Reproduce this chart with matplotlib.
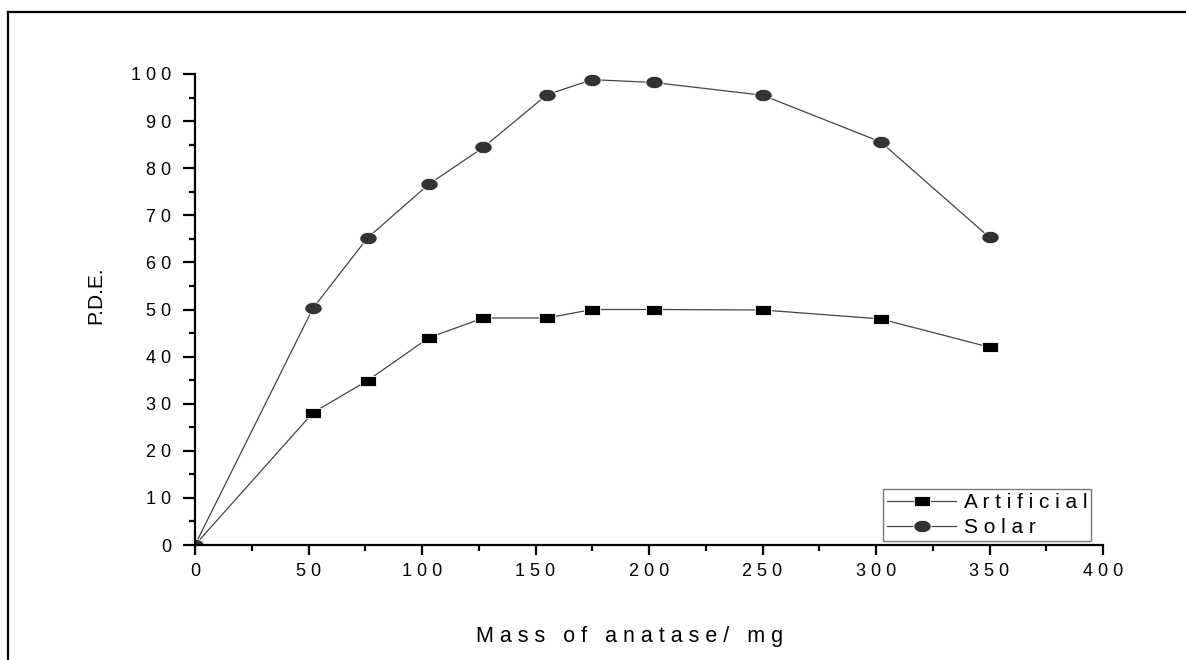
import matplotlib
matplotlib.use('Agg')
import matplotlib.pyplot as plt
import numpy as np
from matplotlib.lines import Line2D
from matplotlib.ticker import MultipleLocator, FuncFormatter

plt.rcParams['font.family'] = ['Liberation Sans', 'DejaVu Sans']

# mass of anatase (mg) and photodegradation efficiency
mass_art = [0, 52, 76, 103, 127, 155, 175, 202, 250, 302, 350]
pde_art = [0, 28.1, 34.9, 44.0, 48.2, 48.2, 50.0, 50.0, 49.9, 48.0, 42.0]
mass_sol = [0, 52, 76, 103, 127, 155, 175, 202, 250, 302, 350]
pde_sol = [0, 50.3, 65.2, 76.6, 84.4, 95.6, 98.8, 98.2, 95.5, 85.6, 65.3]


def spaced(s):
    # the original has wide letter spacing
    return ' '.join(s)


# stretched markers (the source image was widened)
rect = [(-1.5, -1), (1.5, -1), (1.5, 1), (-1.5, 1), (-1.5, -1)]
t = np.linspace(0, 2 * np.pi, 40)
ellipse = list(zip(1.4 * np.cos(t), np.sin(t)))

fig = plt.figure(figsize=(11.86, 6.6), dpi=100)
ax = fig.add_axes([195 / 1186, 1 - 545 / 660, 908 / 1186, 471 / 660])

ax.plot(mass_art, pde_art, color='#444444', lw=0.9, marker=rect, ms=11,
        mfc='black', mec='white', mew=0.6, label=spaced('Artificial'))
ax.plot(mass_sol, pde_sol, color='#444444', lw=0.9, marker=ellipse, ms=12.5,
        mfc='#333333', mec='white', mew=0.6, label=spaced('Solar'))

ax.set_xlim(0, 400)
ax.set_ylim(0, 100)
ax.xaxis.set_major_locator(MultipleLocator(50))
ax.xaxis.set_minor_locator(MultipleLocator(25))
ax.yaxis.set_major_locator(MultipleLocator(10))
ax.yaxis.set_minor_locator(MultipleLocator(5))
fmt = FuncFormatter(lambda v, p: spaced(str(int(round(v)))))
ax.xaxis.set_major_formatter(fmt)
ax.yaxis.set_major_formatter(fmt)

for s in ['top', 'right']:
    ax.spines[s].set_visible(False)
for s in ['left', 'bottom']:
    ax.spines[s].set_linewidth(1.6)

ax.tick_params(axis='both', which='major', direction='out', width=1.6,
               labelsize=13)
ax.tick_params(axis='y', which='major', length=9, pad=8)
ax.tick_params(axis='x', which='major', length=7, pad=6)
ax.tick_params(axis='y', which='minor', direction='out', width=1.6, length=4.5)
ax.tick_params(axis='x', which='minor', direction='out', width=1.6, length=4)

ax.set_xlabel('M a s s   o f   a n a t a s e /   m g', fontsize=15.5)
ax.xaxis.set_label_coords(0.479, -0.173)
ax.set_ylabel('P.D.E.', fontsize=15)
ax.yaxis.set_label_coords(-0.099, 0.53)

leg = ax.legend(loc='lower right', bbox_to_anchor=(0.987, 0.008), fontsize=15,
                frameon=True, fancybox=False, borderpad=0.2, labelspacing=0.3,
                handlelength=3.3, handletextpad=0.35, borderaxespad=0)
leg.get_frame().set_edgecolor('#555555')
leg.get_frame().set_linewidth(1.0)

# outer frame (only top and left edges visible in the source)
fig.add_artist(Line2D([8 / 1186, 1.01], [1 - 12 / 660, 1 - 12 / 660],
                      transform=fig.transFigure, color='black', lw=1.6))
fig.add_artist(Line2D([8 / 1186, 8 / 1186], [-0.01, 1 - 12 / 660],
                      transform=fig.transFigure, color='black', lw=1.6))

fig.savefig('out.png', dpi=100)
